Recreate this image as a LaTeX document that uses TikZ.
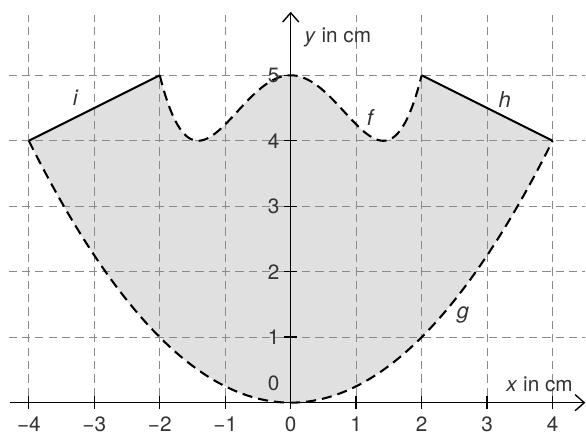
\documentclass[tikz,border=0pt]{standalone}
\usepackage{fontspec}
\setmainfont{TeX Gyre Heros}
\usetikzlibrary{arrows.meta}
\definecolor{txt}{HTML}{333333}
\definecolor{gridc}{HTML}{8A8A8A}
\definecolor{fillc}{HTML}{E0E0E0}
\begin{document}
\begin{tikzpicture}[x=1cm,y=1cm,
  font=\fontsize{9}{10}\selectfont,
  gridline/.style={gridc, line width=0.5pt, dash pattern=on 3.6pt off 2.2pt},
  curve/.style={black, line width=0.9pt, dash pattern=on 4.4pt off 2.6pt},
  seg/.style={black, line width=0.9pt},
  axis/.style={black, line width=0.6pt},
  lbl/.style={text=txt, inner sep=1pt},
  xtick/.style={text=txt, inner sep=0pt},
  fnlbl/.style={text=txt, inner sep=1pt, font=\fontsize{9.5}{10}\selectfont\itshape}]
\useasboundingbox (-4.44,-0.47) rectangle (4.51,6.15);
% shaded region
\fill[fillc] (-4,4) -- (-2,5)
  -- plot[domain=-2:2, samples=121, smooth] (\x, {\x*\x*\x*\x/4 - \x*\x + 5})
  -- (4,4)
  -- plot[domain=4:-4, samples=121, smooth] (\x, {\x*\x/4}) -- cycle;
% grid
\foreach \gx in {-4,-3,-2,-1,1,2,3,4}
  \draw[gridline] (\gx,-0.1) -- (\gx,5.92);
\foreach \gy in {1,2,3,4,5}
  \draw[gridline] (-4.31,\gy) -- (4.5,\gy);
% curves
\draw[curve] plot[domain=-2:2, samples=121, smooth] (\x, {\x*\x*\x*\x/4 - \x*\x + 5});
\draw[curve] plot[domain=-4:4, samples=121, smooth] (\x, {\x*\x/4});
\coordinate (iA) at (-4,4); \coordinate (iB) at (-2,5);
\coordinate (hA) at (2,5);  \coordinate (hB) at (4,4);
\draw[seg] (iA) -- (iB);
\draw[seg] (hA) -- (hB);
% axes
\coordinate (xs) at (-4.29,0); \coordinate (xe) at (4.5,0);
\coordinate (ys) at (0,-0.1); \coordinate (ye) at (0,5.97);
\draw[axis, -{Straight Barb[length=4pt,width=7pt]}] (xs) -- (xe);
\draw[axis, -{Straight Barb[length=4pt,width=7pt]}] (ys) -- (ye);
\foreach \gx/\t in {-4/−4,-3/−3,-2/−2,-1/−1,1/1,2/2,3/3,4/4} {
  \draw[axis] (\gx,-0.1) -- (\gx,0.1);
  \node[xtick] (xl\gx) at (\gx,-0.33) {\t};
}
\node[xtick] (xl0) at (0,-0.33) {0};
\foreach \gy in {1,2,3,4,5} {
  \draw[axis] (-0.1,\gy) -- (0.1,\gy);
  \node[lbl] (yl\gy) at (-0.26,\gy) {\gy};
}
\node[lbl] (o) at (-0.26,0.3) {0};
\node[lbl] (ylab) at (0.72,5.58) {\textit{y} in cm};
\node[lbl] (xlab) at (3.8,0.28) {\textit{x} in cm};
% function labels
\node[fnlbl] (li) at (-3.29,4.66) {i};
\node[fnlbl] (lh) at (3.27,4.63) {h};
\node[fnlbl] (lf) at (1.21,4.35) {f};
\node[fnlbl] (lg) at (2.63,1.34) {g};
\end{tikzpicture}
\end{document}
